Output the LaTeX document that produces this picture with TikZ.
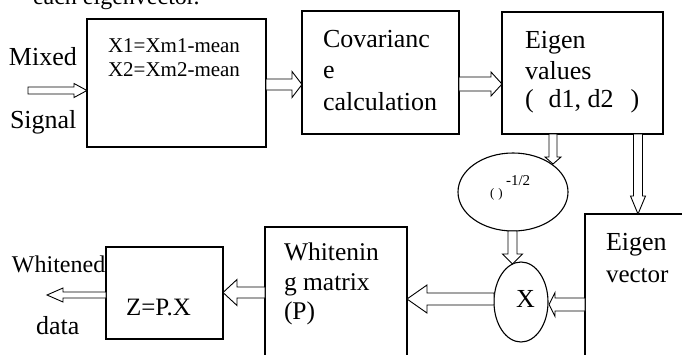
\documentclass[tikz,border=0pt]{standalone}
\usepackage{fontspec}
\setmainfont{Liberation Serif}
\usetikzlibrary{calc,shapes.geometric}
\newcommand\fs[1]{\fontsize{#1}{#1}\selectfont}
% hollow block arrow: start, tip, shaft half width, head half width, head length
\newcommand\hollowarrow[5]{%
  \coordinate (haq) at ($(#2)!#5!(#1)$);
  \draw[arrowline] ($(#1)!#3!90:(#2)$) -- ($(haq)!#3!90:(#2)$) --
    ($(haq)!#4!90:(#2)$) -- (#2) -- ($(haq)!#4!-90:(#2)$) --
    ($(haq)!#3!-90:(#2)$) -- ($(#1)!#3!-90:(#2)$) -- cycle;}
\tikzset{
  box/.style={draw, line width=1.1pt, rectangle, inner sep=0pt, outer sep=0pt},
  oval/.style={draw, line width=1.1pt, ellipse, inner sep=0pt, outer sep=0pt},
  arrowline/.style={draw, line width=0.9pt, fill=white, line join=miter},
  lbl/.style={anchor=base west, inner sep=0pt, outer sep=0pt, font=\fs{26}},
}
\begin{document}
\begin{tikzpicture}[x=1pt,y=-1pt]
\useasboundingbox (0,0) rectangle (682,354);
\clip (0,0) rectangle (682,354);
\fill[white] (0,0) rectangle (682,354);

% boxes
\node[box, minimum width=179pt, minimum height=128pt] (b1) at (176.5,83) {};
\node[box, minimum width=157pt, minimum height=123pt] (b2) at (380.5,72.5) {};
\node[box, minimum width=161pt, minimum height=122pt] (b3) at (582.5,73) {};
\node[box, minimum width=115pt, minimum height=166pt] (ev) at (642.5,297) {};
\node[box, minimum width=142pt, minimum height=153pt] (wh) at (336,303.5) {};
\node[box, minimum width=117pt, minimum height=92pt] (zb) at (164.5,293) {};
\node[oval, minimum width=110pt, minimum height=78pt] (e1) at (513,192) {};
\node[oval, minimum width=54pt, minimum height=80pt] (xm) at (521,302) {};

% texts
\node[lbl, font=\fs{24}] (top) at (33,4) {each eigenvector.};
\node[lbl] (mixed) at (9,65) {Mixed};
\node[lbl] (signal) at (10,128) {Signal};
\node[lbl, font=\fs{21}] (t1a) at (108,52) {X1=Xm1-mean};
\node[lbl, font=\fs{21}] (t1b) at (108,76) {X2=Xm2-mean};
\node[lbl] (t2a) at (323,47) {Covarianc};
\node[lbl] (t2b) at (323,78) {e};
\node[lbl] (t2c) at (323,110) {calculation};
\node[lbl] (t3a) at (525,48) {Eigen};
\node[lbl] (t3b) at (525,79) {values};
\node[lbl] (t3c) at (525,107) {(\hspace{15pt}d1, d2\hspace{17pt})};
\node[lbl, font=\fs{13}] (te1) at (490,197) {(\hspace{4pt})};
\node[lbl, font=\fs{15}] (te1s) at (506,185) {-1/2};
\node[lbl] (tx) at (516,307) {X};
\node[lbl] (tev1) at (606,250) {Eigen};
\node[lbl, font=\fs{25}] (tev2) at (606,282) {vector};
\node[lbl, font=\fs{25.5}] (tw1) at (284,260) {Whitenin};
\node[lbl, font=\fs{25.5}] (tw2) at (284,290) {g matrix};
\node[lbl, font=\fs{25.5}] (tw3) at (284,319) {(P)};
\node[lbl, font=\fs{25}] (tz) at (126,315) {Z=P.X};
\node[lbl, font=\fs{24}] (tout1) at (12,272) {Whitened};
\node[lbl] (tout2) at (36,334) {data};

% connector end points
\coordinate (sigin) at (28,90.5);
\coordinate (zout) at (47,295);

% hollow arrows
\hollowarrow{sigin}{$(b1.west)+(0,7.5)$}{3.5pt}{7pt}{13pt}
\hollowarrow{$(b1.east)+(0,1.5)$}{$(b2.west)+(0,12)$}{5.5pt}{13pt}{10pt}
\hollowarrow{$(b2.east)+(0,11.5)$}{$(b3.west)+(0,11)$}{7pt}{12pt}{11pt}
\hollowarrow{$(b3.south)+(-29.5,0)$}{$(e1.center)+(40,-28)$}{4pt}{8pt}{7pt}
\hollowarrow{$(b3.south)+(55.5,0)$}{$(ev.north west)+(53,0)$}{4.5pt}{7.5pt}{18pt}
\hollowarrow{$(e1.south)+(-0.5,0)$}{$(xm.north)+(-8.5,2)$}{4.5pt}{10pt}{10pt}
\hollowarrow{$(ev.west)+(0,7.5)$}{$(xm.east)+(1,2.5)$}{6.5pt}{12pt}{6pt}
\hollowarrow{$(xm.west)+(0,-3)$}{$(wh.east)+(0,-4.5)$}{6pt}{14pt}{20pt}
\hollowarrow{$(wh.west)+(0,-11)$}{$(zb.east)+(0,-0.5)$}{5.5pt}{13pt}{14pt}
\hollowarrow{$(zb.west)+(0,2)$}{zout}{3pt}{7pt}{16pt}
\end{tikzpicture}
\end{document}
